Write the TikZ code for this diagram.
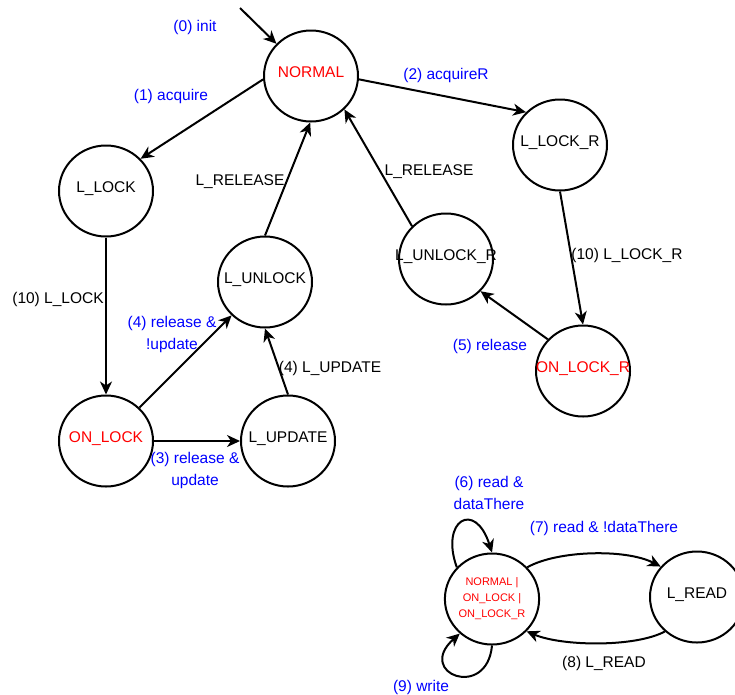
\documentclass[tikz,border=0pt]{standalone}
\usepackage{fontspec}
\setmainfont{Liberation Sans}
\usetikzlibrary{arrows.meta,shapes.geometric}
\definecolor{lblblue}{RGB}{0,0,255}
\definecolor{lblred}{RGB}{255,0,0}
\newcommand\stxt[1]{\makebox[0pt]{#1}}
\begin{document}
\begin{tikzpicture}[x=1pt,y=-1pt,
  state/.style={ellipse,draw,line width=2pt,minimum width=94pt,minimum height=91pt,inner sep=0pt,font=\fontsize{15.5}{18}\selectfont},
  lifted/.style={state,text height=11pt,text depth=8pt},
  conn/.style={line width=2pt,-{Stealth[length=13pt,width=12pt,inset=4pt]}},
  lbl/.style={font=\fontsize{15.5}{22.5}\selectfont,inner sep=0pt,align=center},
  blbl/.style={lbl,text=lblblue},
]
\clip (0,0) rectangle (735,694);

% states
\node[lifted,text=lblred] (normal) at (311,76) {\stxt{NORMAL}};
\node[lifted] (llock) at (106,191) {\stxt{L\_LOCK}};
\node[lifted] (lunlock) at (265,282) {\stxt{L\_UNLOCK}};
\node[lifted,text=lblred] (onlock) at (106,441) {\stxt{ON\_LOCK}};
\node[lifted] (lupdate) at (288,441) {\stxt{L\_UPDATE}};
\node[lifted] (llockr) at (560,145) {\stxt{L\_LOCK\_R}};
\node[lifted] (lunlockr) at (446,259) {\stxt{L\_UNLOCK\_R}};
\node[lifted,text=lblred] (onlockr) at (583,371) {\stxt{ON\_LOCK\_R}};
\node[state,text=lblred,align=center,font=\fontsize{11}{16}\selectfont] (combo) at (492,599) {NORMAL |\\ON\_LOCK |\\ON\_LOCK\_R};
\node[lifted] (lread) at (697,597) {\stxt{L\_READ}};

\coordinate (initpt) at (240,8);

% connectors
\draw[conn] (initpt) -- (normal.137);
\draw[conn] (normal.184) -- (llock.43);
\draw[conn] (normal.-4) -- (llockr.136);
\draw[conn] (lunlock.90) -- (normal.-91);
\draw[conn] (lunlockr.136) -- (normal.-45);
\draw[conn] (llock.-90) -- (onlock.90);
\draw[conn] (onlock.45) -- (lunlock.225);
\draw[conn] (onlock.0) -- (lupdate.180);
\draw[conn] (lupdate.90) -- (lunlock.-90);
\draw[conn] (llockr.-90) -- (onlockr.90);
\draw[conn] (onlockr.138) -- (lunlockr.-43);
\draw[conn] (combo.138) .. controls +(-17,-47) and +(-17,-53) .. (combo.90);
\draw[conn] (combo.-90) .. controls +(-5,55) and +(-45,40) .. (combo.227);
\draw[conn] (combo.42) .. controls +(30,-17) and +(-35,-18) .. (lread.140);
\draw[conn] (lread.227) .. controls +(-30,16) and +(35,15) .. (combo.-43);

% labels
\node[blbl] (t0) at (195,27) {(0) init};
\node[blbl] (t1) at (171,96) {(1) acquire};
\node[blbl] (t2) at (446,75) {(2) acquireR};
\node[lbl] (trel1) at (240,182) {L\_RELEASE};
\node[lbl] (trel2) at (429,172) {L\_RELEASE};
\node[lbl] (t10a) at (58,299) {(10) L\_LOCK};
\node[blbl] (t4a) at (172,334.5) {(4) release \&\\!update};
\node[blbl] (t3) at (195,470.5) {(3) release \&\\update};
\node[lbl] (t4b) at (330,368) {(4) L\_UPDATE};
\node[lbl] (t10b) at (627,255) {(10) L\_LOCK\_R};
\node[blbl] (t5) at (490,346) {(5) release};
\node[blbl] (t6) at (489,493) {(6) read \&\\dataThere};
\node[blbl] (t7) at (604,528) {(7) read \& !dataThere};
\node[lbl] (t8) at (604,663) {(8) L\_READ};
\node[blbl] (t9) at (421,687) {(9) write};
\end{tikzpicture}
\end{document}
